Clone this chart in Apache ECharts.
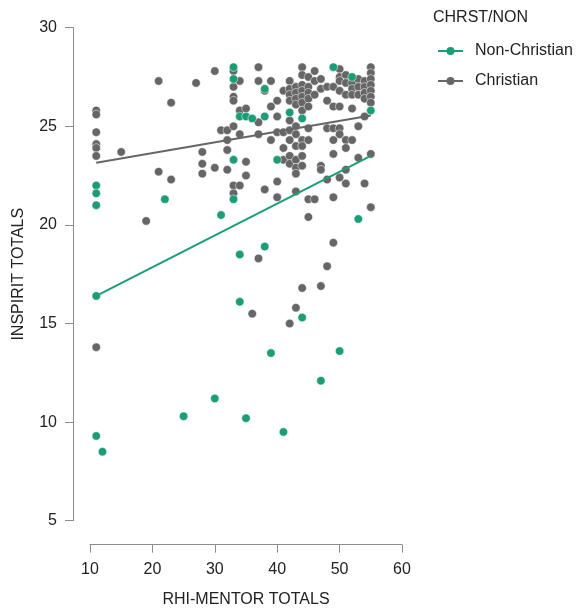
<!DOCTYPE html>
<html>
<head>
<meta charset="utf-8">
<script src="https://cdn.jsdelivr.net/npm/echarts@6/dist/echarts.min.js"></script>
<style>html,body{margin:0;padding:0;background:#fff}#c{width:585px;height:613px}</style>
</head>
<body>
<div id="c"></div>
<script>
// Christian points [RHI-MENTOR, INSPIRIT]
const christianX = [11,11,11,11,11,11,11,15,19,21,21,23,23,27,28,28,28,30,30,31,32,32,32,32,
  33,33,33,33,33,33,33,34,34,34,34,35,35,35,36,37,37,37,37,37,38,38,39,39,39,
  40,40,40,40,40,41,41,41,41,42,42,42,42,42,42,42,42,42,42,
  43,43,43,43,43,43,43,43,43,43,43,43,44,44,44,44,44,44,44,44,44,44,44,44,
  45,45,45,45,45,45,45,45,45,46,46,46,46,47,47,47,47,47,48,48,48,48,48,
  49,49,49,49,49,49,49,50,50,50,50,50,50,50,50,51,51,51,51,51,51,51,
  52,52,52,52,52,53,53,53,53,53,54,54,54,54,54,54,55,55,55,55,55,55,55,55,55];
const christianY = [25.8,25.6,24.7,24.1,23.9,23.5,13.8,23.7,20.2,27.3,22.7,26.2,22.3,27.2,23.7,23.1,22.6,27.8,22.9,24.8,24.8,24.3,23.8,22.8,
  27.8,27.0,26.5,26.3,25.0,22.0,21.6,27.3,25.8,24.6,22.0,25.9,23.2,22.5,15.5,28.0,27.3,25.2,24.6,18.3,26.8,21.8,27.3,26.0,24.3,
  26.3,25.5,24.7,22.2,21.4,26.8,24.7,23.9,23.3,27.3,26.9,26.6,26.3,25.3,24.8,24.3,23.5,23.1,15.0,
  27.0,26.7,26.4,26.1,25.0,24.6,24.0,23.3,22.9,22.6,21.7,15.8,28.0,27.6,27.1,26.8,26.5,26.2,25.8,24.3,24.0,23.5,23.0,16.8,
  27.5,27.0,26.7,26.4,26.0,24.9,24.3,21.3,20.4,27.8,27.3,26.6,21.3,27.4,26.9,23.0,22.8,16.9,27.0,26.3,24.9,22.3,17.9,
  27.0,26.0,24.9,24.3,23.6,21.4,19.1,27.9,27.5,27.3,26.8,26.0,24.9,24.6,22.4,27.6,27.2,26.6,24.3,23.9,22.8,22.1,
  27.2,26.9,26.6,25.9,24.3,27.4,27.0,26.6,25.0,23.4,27.3,27.0,26.7,26.4,25.5,22.1,28.0,27.7,27.4,27.1,26.8,26.5,26.2,23.6,20.9];
// Non-Christian points
const nonChristianX = [11,11,11,11,11,12,22,25,30,31,33,33,33,33,34,34,34,35,35,36,38,38,38,39,40,41,42,44,44,47,49,50,52,53,55];
const nonChristianY = [22.0,21.6,21.0,16.4,9.3,8.5,21.3,10.3,11.2,20.5,28.0,27.4,23.3,21.3,25.5,18.5,16.1,25.5,10.2,25.4,26.9,25.5,18.9,13.5,23.3,9.5,25.7,25.4,15.3,12.1,28.0,13.6,27.5,20.3,25.8];
// Fitted regression lines (endpoints)
const fitX = [11, 55];
const christianFitY = [23.15, 25.55];
const nonChristianFitY = [16.4, 23.5];
const xTicks = [10,20,30,40,50,60];
const yTicks = [5,10,15,20,25,30];

const GREEN = '#1b9e77', GRAY = '#666666';
const zip = (a,b) => a.map((v,i)=>[v,b[i]]);
const FONT = 'Liberation Sans, Arial, sans-serif';

const chart = echarts.init(document.getElementById('c'), null, {renderer:'canvas'});
chart.setOption({
  animation:false,
  backgroundColor:'#fff',
  textStyle:{fontFamily:FONT},
  grid:{left:90, right:183, top:27.7, bottom:92.3, containLabel:false},
  xAxis:{type:'value', min:xTicks[0], max:xTicks[xTicks.length-1], interval:10, offset:24,
    name:'RHI-MENTOR TOTALS', nameLocation:'middle', nameGap:47,
    nameTextStyle:{fontSize:16, color:'#222', fontFamily:FONT},
    axisLine:{show:true, lineStyle:{color:'#8c8c8c', width:1}},
    axisTick:{show:true, length:8, lineStyle:{color:'#8c8c8c'}},
    axisLabel:{fontSize:16, color:'#222', margin:17, fontFamily:FONT},
    splitLine:{show:false}},
  yAxis:{type:'value', min:yTicks[0], max:yTicks[yTicks.length-1], interval:5, offset:17,
    name:'INSPIRIT TOTALS', nameLocation:'middle', nameGap:46,
    nameTextStyle:{fontSize:16, color:'#222', fontFamily:FONT},
    axisLine:{show:true, lineStyle:{color:'#8c8c8c', width:1}},
    axisTick:{show:true, length:8, lineStyle:{color:'#8c8c8c'}},
    axisLabel:{fontSize:16, color:'#222', margin:16, fontFamily:FONT},
    splitLine:{show:false}},
  title:{text:'CHRST/NON', left:428, top:5, textStyle:{fontSize:16, fontWeight:'normal', color:'#222', fontFamily:FONT}},
  legend:{orient:'vertical', left:432, top:38, itemWidth:25, itemHeight:10, itemGap:14,
    textStyle:{fontSize:16, color:'#222', fontFamily:FONT, padding:[0,0,0,7]},
    data:['Non-Christian','Christian']},
  series:[
    {name:'Christian', type:'line', data:zip(fitX, christianFitY), symbol:'circle', symbolSize:8, showSymbol:false,
     lineStyle:{color:GRAY, width:2}, itemStyle:{color:GRAY}, z:3},
    {name:'Non-Christian', type:'line', data:zip(fitX, nonChristianFitY), symbol:'circle', symbolSize:8, showSymbol:false,
     lineStyle:{color:GREEN, width:2}, itemStyle:{color:GREEN}, z:3},
    {name:'Christian', type:'scatter', data:zip(christianX, christianY), symbolSize:8.5,
     itemStyle:{color:GRAY, borderColor:'#fff', borderWidth:0.5, opacity:1}, z:2},
    {name:'Non-Christian', type:'scatter', data:zip(nonChristianX, nonChristianY), symbolSize:8.5,
     itemStyle:{color:GREEN, borderColor:'#fff', borderWidth:0.5, opacity:1}, z:2}
  ]
});
</script>
</body>
</html>
